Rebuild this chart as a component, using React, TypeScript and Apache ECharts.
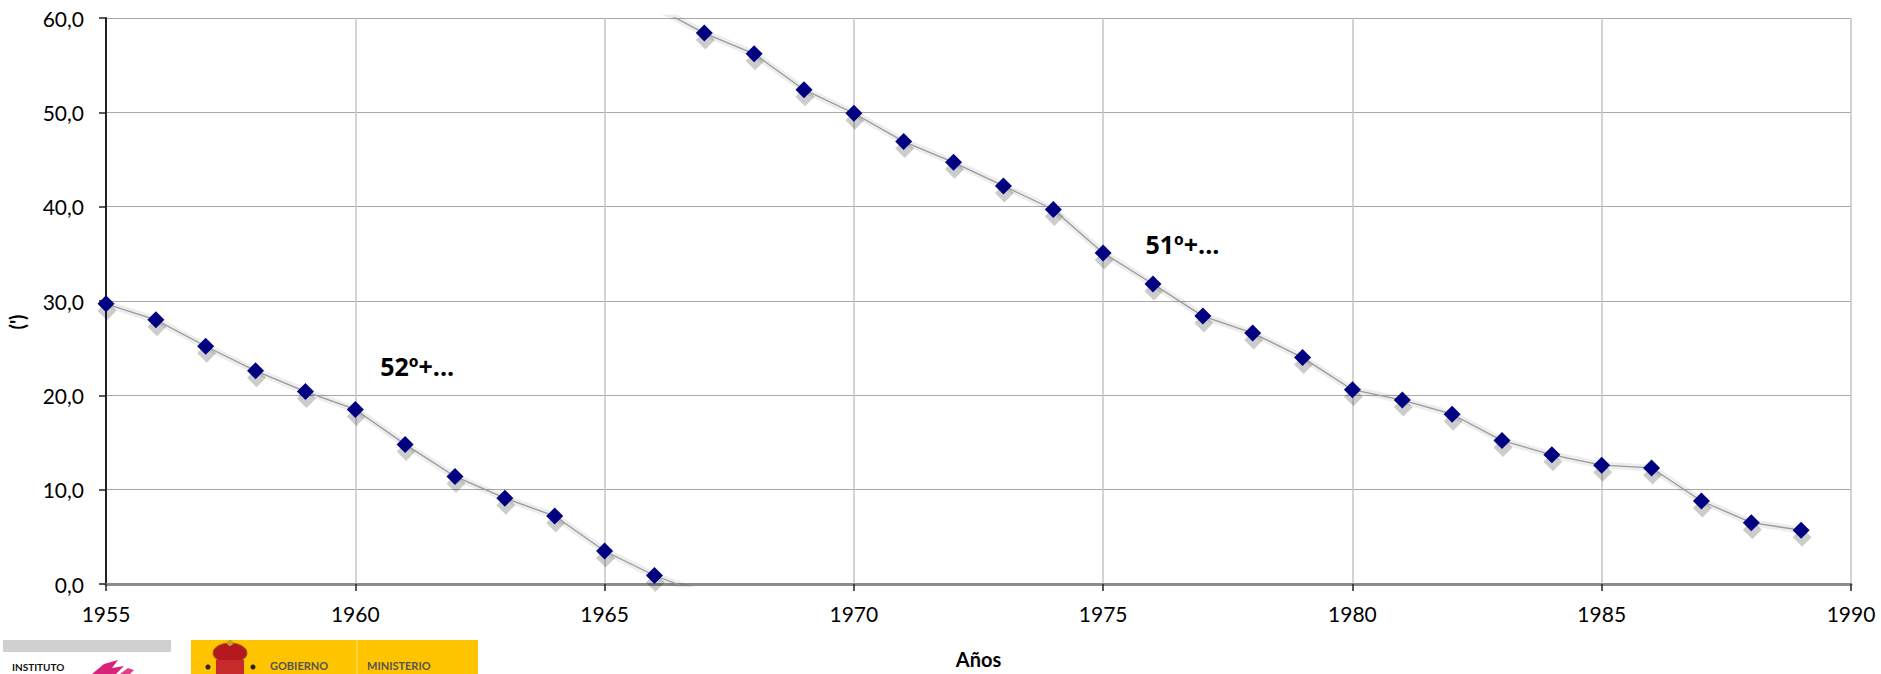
import React, { useEffect, useRef } from "react";
import * as echarts from "echarts";

// Series "52º+..." (last point beyond 0 only drives the line's continuation to the axis)
const years52 = [1955, 1956, 1957, 1958, 1959, 1960, 1961, 1962, 1963, 1964, 1965, 1966, 1967];
const values52 = [29.7, 28.0, 25.2, 22.6, 20.4, 18.5, 14.8, 11.4, 9.1, 7.2, 3.5, 0.9, -1.1];
// Series "51º+..." (first point beyond 60 only drives the line's continuation to the top)
const years51 = [1966, 1967, 1968, 1969, 1970, 1971, 1972, 1973, 1974, 1975, 1976, 1977, 1978,
  1979, 1980, 1981, 1982, 1983, 1984, 1985, 1986, 1987, 1988, 1989];
const values51 = [61.2, 58.4, 56.2, 52.4, 49.9, 46.9, 44.7, 42.2, 39.7, 35.1, 31.8, 28.4, 26.6,
  24.0, 20.6, 19.5, 18.0, 15.2, 13.7, 12.6, 12.3, 8.8, 6.5, 5.7];

const seriesLabels = [
  { text: "52º+...", year: 1960.5, value: 23.1 },
  { text: "51º+...", year: 1975.85, value: 36.0 },
];

const FONT = "Lato, 'Liberation Sans', sans-serif";
const LABEL_FONT = "'Open Sans', 'Noto Sans', sans-serif";

function buildData(xs: number[], ys: number[]) {
  return xs.map((x, i) => {
    const v = ys[i];
    const out = v < 0 || v > 60;
    return out ? { value: [x, v], symbol: "none" } : { value: [x, v] };
  });
}

export default function App() {
  const ref = useRef<HTMLDivElement>(null);
  useEffect(() => {
    document.body.style.margin = "0";
    if (!ref.current) return;
    const chart = echarts.init(ref.current, null, { renderer: "svg" });
    const shadowSeries = (name: string, data: any[]) => ({
      name: name + "-shadow",
      type: "line",
      data,
      clip: true,
      symbol: "diamond",
      symbolSize: 19,
      symbolOffset: [1, 7],
      lineStyle: { color: "rgba(0,0,0,0.07)", width: 7 },
      itemStyle: { color: "rgba(0,0,0,0.2)" },
      silent: true,
      emphasis: { disabled: true },
      z: 2,
    });
    const lineSeries = (name: string, data: any[]) => ({
      name,
      type: "line",
      data,
      clip: true,
      symbol: "diamond",
      symbolSize: 17,
      lineStyle: { color: "#9a9a9a", width: 1.3 },
      itemStyle: { color: "#000080" },
      emphasis: { disabled: true },
      z: 3,
    });
    const d52 = buildData(years52, values52);
    const d51 = buildData(years51, values51);
    const option: any = {
      animation: false,
      grid: { left: 106, top: 18, right: 30, bottom: 76, containLabel: false },
      xAxis: [
        {
          type: "value",
          min: 1955,
          max: 1990,
          interval: 5,
          name: "Años",
          nameLocation: "middle",
          nameGap: 65,
          nameTextStyle: { fontFamily: FONT, fontWeight: "bold", fontSize: 20, color: "#000" },
          axisLine: { show: true, onZero: false, lineStyle: { color: "#222", width: 2 } },
          axisTick: { show: true, length: 7, lineStyle: { color: "#222", width: 1.5 } },
          axisLabel: {
            fontFamily: FONT,
            fontSize: 21,
            color: "#000",
            margin: 19,
            formatter: (v: number) => String(v),
          },
          splitLine: { show: true, lineStyle: { color: "#c4c4c4", width: 1.5 } },
        },
        {
          type: "value",
          position: "top",
          min: 1955,
          max: 1990,
          interval: 5,
          axisLine: { show: true, lineStyle: { color: "#8c8c8c", width: 3 } },
          axisTick: { show: false },
          axisLabel: { show: false },
          splitLine: { show: false },
        },
      ],
      yAxis: {
        type: "value",
        min: 0,
        max: 60,
        interval: 10,
        axisLine: { show: true, lineStyle: { color: "#222", width: 2 } },
        axisTick: { show: true, length: 7, lineStyle: { color: "#222", width: 1.5 } },
        axisLabel: {
          fontFamily: FONT,
          fontSize: 21,
          color: "#000",
          margin: 22,
          formatter: (v: number) => v.toFixed(1).replace(".", ","),
        },
        splitLine: { show: true, lineStyle: { color: "#a8a8a8", width: 1 } },
      },
      series: [
        shadowSeries("52º+...", d52),
        shadowSeries("51º+...", d51),
        lineSeries("52º+...", d52),
        lineSeries("51º+...", d51),
      ],
    };
    chart.setOption(option);

    const labelGraphics = seriesLabels.map((l) => {
      const [px, py] = chart.convertToPixel({ xAxisIndex: 0, yAxisIndex: 0 }, [l.year, l.value]);
      return {
        type: "text",
        x: px,
        y: py,
        style: {
          text: l.text,
          fontFamily: LABEL_FONT,
          fontWeight: "bold",
          fontSize: 25,
          fill: "#000",
          textAlign: "left",
          textVerticalAlign: "middle",
        },
        z: 10,
      };
    });

    chart.setOption({
      graphic: [
        {
          type: "text",
          x: 17,
          y: 322,
          rotation: Math.PI / 2,
          style: {
            text: "(')",
            fontFamily: FONT,
            fontWeight: "bold",
            fontSize: 20,
            fill: "#000",
            textAlign: "center",
            textVerticalAlign: "middle",
          },
        },
        ...labelGraphics,
        // logos (bottom-left)
        { type: "rect", shape: { x: 3, y: 640, width: 168, height: 12 }, style: { fill: "#d0d0d0" } },
        {
          type: "text",
          x: 12,
          y: 662,
          style: { text: "INSTITUTO", fontFamily: FONT, fontWeight: "bold", fontSize: 10, fill: "#111" },
        },
        {
          type: "polygon",
          shape: { points: [[92, 674], [104, 664], [118, 660], [112, 668], [124, 666], [116, 674]] },
          style: { fill: "#d6247a" },
        },
        {
          type: "polygon",
          shape: { points: [[120, 674], [128, 668], [134, 670], [130, 674]] },
          style: { fill: "#e0408a" },
        },
        { type: "rect", shape: { x: 191, y: 640, width: 287, height: 34 }, style: { fill: "#ffc400" } },
        { type: "line", shape: { x1: 357, y1: 640, x2: 357, y2: 674 }, style: { stroke: "#ffe27a", lineWidth: 1 } },
        { type: "ellipse", shape: { cx: 230, cy: 653, rx: 17, ry: 10 }, style: { fill: "#b5181f", stroke: "#8a6a10", lineWidth: 1 } },
        { type: "rect", shape: { x: 216, y: 660, width: 28, height: 14 }, style: { fill: "#c62a2a" } },
        { type: "circle", shape: { cx: 230, cy: 643, r: 3 }, style: { fill: "#c8a020" } },
        { type: "circle", shape: { cx: 208, cy: 667, r: 2.5 }, style: { fill: "#222" } },
        { type: "circle", shape: { cx: 253, cy: 667, r: 2.5 }, style: { fill: "#222" } },
        {
          type: "text",
          x: 270,
          y: 660,
          style: { text: "GOBIERNO", fontFamily: FONT, fontWeight: "bold", fontSize: 11, fill: "#555" },
        },
        {
          type: "text",
          x: 367,
          y: 660,
          style: { text: "MINISTERIO", fontFamily: FONT, fontWeight: "bold", fontSize: 11, fill: "#555" },
        },
      ],
    });
    return () => chart.dispose();
  }, []);
  return <div ref={ref} style={{ width: 1881, height: 674 }} />;
}
